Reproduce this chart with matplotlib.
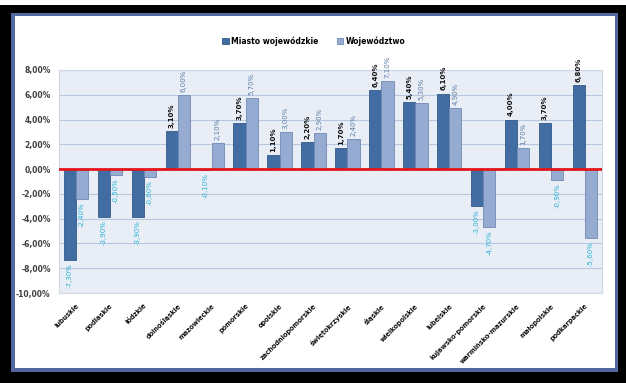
import matplotlib
matplotlib.use("Agg")
import matplotlib.pyplot as plt
from matplotlib.patches import Rectangle
import numpy as np

# dane
regions = ["lubuskie", "podlaskie", "łódzkie", "dolnośląskie", "mazowieckie",
           "pomorskie", "opolskie", "zachodniopomorskie", "świętokrzyskie",
           "śląskie", "wielkopolskie", "lubelskie", "kujawsko-pomorskie",
           "warmińsko-mazurskie", "małopolskie", "podkarpackie"]
miasto = [-7.30, -3.90, -3.90, 3.10, -0.10, 3.70, 1.10, 2.20, 1.70,
          6.40, 5.40, 6.10, -3.00, 4.00, 3.70, 6.80]
wojewodztwo = [-2.40, -0.50, -0.60, 6.00, 2.10, 5.70, 3.00, 2.90, 2.40,
               7.10, 5.30, 4.90, -4.70, 1.70, -0.90, -5.60]
yticks = [-10, -8, -6, -4, -2, 0, 2, 4, 6, 8]

c_miasto = "#416da3"
c_woj = "#96abd2"
c_neg = "#2ab3d6"
c_pos_woj = "#5b7da6"

W, H = 626, 383
fig = plt.figure(figsize=(W / 100, H / 100), dpi=100)
fig.patch.set_facecolor("black")

# ramka
fig.patches.append(Rectangle((0, 1 - 5 / H), 1, 5 / H, transform=fig.transFigure,
                             facecolor="white", edgecolor="none", zorder=-10))
fig.patches.append(Rectangle((11 / W, 1 - 372 / H), 607 / W, 359 / H, transform=fig.transFigure,
                             facecolor="#5468a0", edgecolor="none", zorder=-10))
fig.patches.append(Rectangle((15 / W, 1 - 368 / H), 600 / W, 352 / H, transform=fig.transFigure,
                             facecolor="white", edgecolor="none", zorder=-9))

ax = fig.add_axes([59 / W, 1 - 293 / H, 543 / W, 223 / H])
ax.set_facecolor("#e9eef6")

x = np.arange(len(regions))
bw = 0.36
ax.bar(x - bw / 2, miasto, bw, color=c_miasto, edgecolor="#34598a", linewidth=0.6, zorder=3,
       label="Miasto wojewódzkie")
ax.bar(x + bw / 2, wojewodztwo, bw, color=c_woj, edgecolor="#6f88b5", linewidth=0.6, zorder=3,
       label="Województwo")

ax.axhline(0, color="#e3141b", linewidth=2, zorder=4)

def fmt(v):
    return f"{v:.2f}%".replace(".", ",")

for i in range(len(regions)):
    for v, dx, series in [(miasto[i], -bw / 2, "m"), (wojewodztwo[i], bw / 2, "w")]:
        if v >= 0:
            if series == "m":
                ax.text(x[i] + dx, v + 0.25, fmt(v), rotation=90, ha="center", va="bottom",
                        fontsize=5, fontweight="bold", color="#111111", zorder=5)
            else:
                ax.text(x[i] + dx, v + 0.25, fmt(v), rotation=90, ha="center", va="bottom",
                        fontsize=5, color=c_pos_woj, zorder=5)
        else:
            ax.text(x[i] + dx, v - 0.25, fmt(v), rotation=90, ha="center", va="top",
                    fontsize=5, color=c_neg, zorder=5)

ax.set_xlim(-0.5, len(regions) - 0.5)
ax.set_ylim(-10, 8)
ax.set_yticks(yticks)
ax.set_yticklabels([fmt(v) for v in yticks], fontsize=5.5, fontweight="bold", color="#404040")
ax.yaxis.grid(True, color="#b6c8e0", linewidth=0.8, zorder=0)
ax.set_axisbelow(True)
ax.tick_params(axis="y", length=0, pad=6)
ax.tick_params(axis="x", length=0, pad=7)
ax.set_xticks(x)
ax.set_xticklabels(regions, rotation=45, ha="right", va="top", rotation_mode="anchor",
                   fontsize=4.8, fontweight="bold", color="#111111")
for s in ax.spines.values():
    s.set_color("#d0d8e6")
    s.set_linewidth(0.8)

fig.legend(loc="center", bbox_to_anchor=(314 / W, 1 - 41 / H), ncol=2, frameon=False,
           handlelength=0.8, handleheight=0.8, handletextpad=0.3,
           columnspacing=2.5, prop={"weight": "bold", "size": 5.5})

fig.savefig("out.png", dpi=100, facecolor=fig.get_facecolor())
